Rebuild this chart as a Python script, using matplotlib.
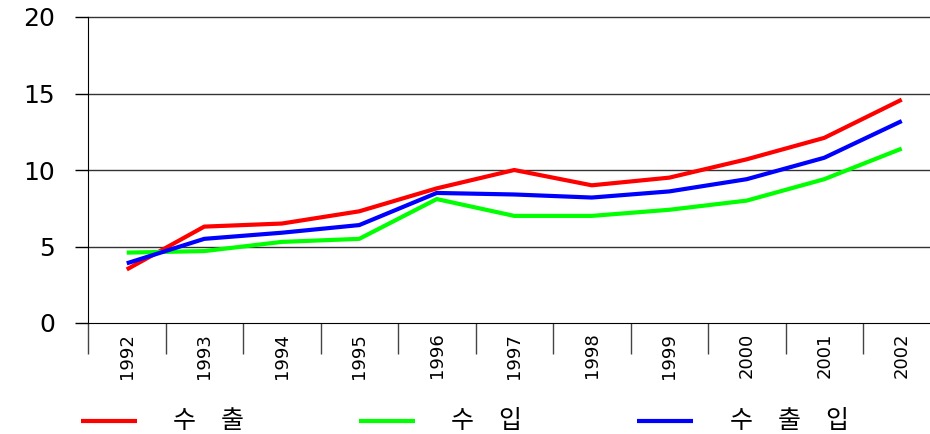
import matplotlib
matplotlib.use("Agg")
import matplotlib.pyplot as plt
from matplotlib.lines import Line2D
from matplotlib.ticker import FixedLocator

years = ["1992", "1993", "1994", "1995", "1996", "1997",
         "1998", "1999", "2000", "2001", "2002"]
export_vals = [3.5, 6.3, 6.5, 7.3, 8.8, 10.0, 9.0, 9.5, 10.7, 12.1, 14.6]
import_vals = [4.6, 4.7, 5.3, 5.5, 8.1, 7.0, 7.0, 7.4, 8.0, 9.4, 11.4]
trade_vals = [3.9, 5.5, 5.9, 6.4, 8.5, 8.4, 8.2, 8.6, 9.4, 10.8, 13.2]

series_labels = ["수\u3000출", "수\u3000입", "수\u3000출\u3000입"]
series_colors = ["#ff0000", "#00ff00", "#0000ff"]
y_ticks = [0, 5, 10, 15, 20]

W, H = 930, 434
fig = plt.figure(figsize=(W / 100, H / 100), dpi=100)
ax = fig.add_axes([88 / W, 111 / H, 852.5 / W, 306 / H])

x = list(range(len(years)))
for vals, col in zip([export_vals, import_vals, trade_vals], series_colors):
    ax.plot(x, vals, color=col, lw=3.0, solid_capstyle="butt", zorder=3)

ax.set_xlim(-0.5, len(years) - 0.5)
ax.set_ylim(0, 20)

ax.set_yticks(y_ticks)
ax.set_yticklabels([str(v) for v in y_ticks], fontsize=18, family="DejaVu Sans")
ax.tick_params(axis="y", direction="out", length=9.5, width=1.0, pad=14, colors="black")

ax.set_xticks(x)
ax.set_xticklabels(years, rotation=90, fontsize=13, family="DejaVu Sans",
                   ha="center", va="top")
ax.tick_params(axis="x", which="major", length=0, pad=7)
ax.xaxis.set_minor_locator(FixedLocator([i - 0.5 for i in range(len(years) + 1)]))
ax.tick_params(axis="x", which="minor", direction="out", length=22, width=1.0,
               color="#444444")

for v in y_ticks[1:]:
    ax.axhline(v, color="#333333", lw=1.0, zorder=1, clip_on=False)

for side in ["top", "right"]:
    ax.spines[side].set_visible(False)

# legend row below the chart
line_x = [(81, 137), (359, 415), (637, 693)]
text_x = [173, 451, 730]
ly = 1 - 421 / H
for (x0, x1), tx, col, lab in zip(line_x, text_x, series_colors, series_labels):
    fig.add_artist(Line2D([x0 / W, x1 / W], [ly, ly], color=col, lw=3.0,
                          transform=fig.transFigure, solid_capstyle="butt"))
    fig.text(tx / W, ly, lab, fontsize=18, va="center", ha="left",
             family=["Noto Sans CJK KR", "DejaVu Sans"])

fig.savefig("out.png", dpi=100)
